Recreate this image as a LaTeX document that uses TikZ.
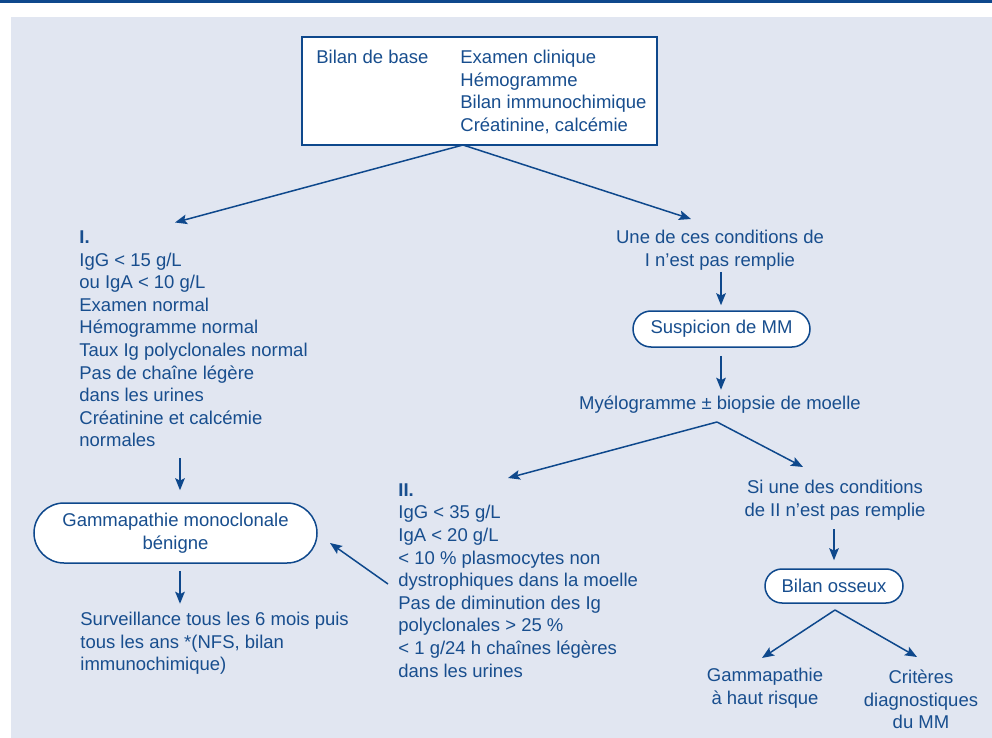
\documentclass[tikz,border=0pt]{standalone}
\usepackage{fontspec}
\setmainfont{Liberation Sans}
\usetikzlibrary{shapes.misc,arrows.meta}
\definecolor{bleu}{RGB}{24,78,142}
\definecolor{trait}{RGB}{14,72,140}
\definecolor{fond}{RGB}{225,230,241}
\begin{document}
\begin{tikzpicture}[x=0.5pt,y=-0.5pt,
  font=\fontsize{9.25}{11.3}\selectfont,
  txt/.style={inner sep=0pt, align=left, anchor=base west, text=bleu},
  ctxt/.style={inner sep=0pt, align=center, anchor=base, text=bleu},
  arr/.style={draw=trait, line width=0.75pt, -{Stealth[length=6pt,width=4.8pt,inset=1.2pt]}},
  rbox/.style={rounded rectangle, draw=trait, fill=white, line width=0.75pt, inner sep=0pt, align=center, text=bleu}]
\useasboundingbox (0,0) rectangle (992,738);
\fill[fond] (11,17) rectangle (992,738);
\fill[trait] (0,0) rectangle (992,3);

% top box (base anchor of a multi-line node = baseline of its last line)
\node[draw=trait, fill=white, line width=0.75pt, minimum width=177.5pt, minimum height=54pt, inner sep=0pt] (top) at (479.5,91) {};
\node[txt] (bb) at (316,63.5) {Bilan de base};
\node[txt] (bl) at (460,131.3) {Examen clinique\\Hémogramme\\Bilan immunochimique\\Créatinine, calcémie};

% left column
\node[txt] (c1) at (79,446.9) {\textbf{I.}\\IgG < 15 g/L\\ou IgA < 10 g/L\\Examen normal\\Hémogramme normal\\Taux Ig polyclonales normal\\Pas de chaîne légère\\dans les urines\\Créatinine et calcémie\\normales};
\node[rbox, minimum width=141.5pt, minimum height=30pt] (gmb) at (175.5,533) {Gammapathie monoclonale\\bénigne};
\node[txt] (surv) at (80,670.7) {Surveillance tous les 6 mois puis\\tous les ans *(NFS, bilan\\immunochimique)};

% right column
\node[ctxt] (nc) at (720,266.1) {Une de ces conditions de\\I n'est pas remplie};
\node[rbox, minimum width=88.5pt, minimum height=18pt] (smm) at (721.5,329) {Suspicion de MM};
\node[ctxt] (myelo) at (720,409.5) {Myélogramme ± biopsie de moelle};
\node[txt] (c2) at (398,677) {\textbf{II.}\\IgG < 35 g/L\\IgA < 20 g/L\\< 10 \% plasmocytes non\\dystrophiques dans la moelle\\Pas de diminution des Ig\\polyclonales > 25 \%\\< 1 g/24 h chaînes légères\\dans les urines};
\node[ctxt] (si) at (835,516.1) {Si une des conditions\\de II n'est pas remplie};
\node[rbox, minimum width=69pt, minimum height=17pt] (bo) at (834,586) {Bilan osseux};
\node[ctxt] (ghr) at (765,704.1) {Gammapathie\\à haut risque};
\node[ctxt] (crit) at (921,728.7) {Critères\\diagnostiques\\du MM};

% connector points
\coordinate (t0) at (463,145);
\coordinate (e1) at (175,222.5);
\coordinate (e2) at (691,219);
\coordinate (a3) at (180,458);
\coordinate (m0) at (717,422);
\coordinate (e7) at (508,478);
\coordinate (e8) at (803,467);
\coordinate (a9) at (388,584);
\coordinate (e9) at (330,543);
\coordinate (b0) at (835,610);
\coordinate (e11) at (762,658);
\coordinate (e12) at (917,657);

\draw[arr] (t0) -- (e1);
\draw[arr] (t0) -- (e2);
\draw[arr] (a3) -- ([yshift=6pt]gmb.north -| a3);
\draw[arr] ([yshift=-3.5pt]gmb.south -| a3) -- ([yshift=-20pt]gmb.south -| a3);
\draw[arr] (721,272) -- ([yshift=2.5pt]smm.north -| 721,0);
\draw[arr] ([yshift=-4pt]smm.south -| 721,0) -- ([yshift=-21pt]smm.south -| 721,0);
\draw[arr] (m0) -- (e7);
\draw[arr] (m0) -- (e8);
\draw[arr] (a9) -- (e9);
\draw[arr] (834,529) -- ([yshift=4pt]bo.north);
\draw[arr] (b0) -- (e11);
\draw[arr] (b0) -- (e12);
\end{tikzpicture}
\end{document}
